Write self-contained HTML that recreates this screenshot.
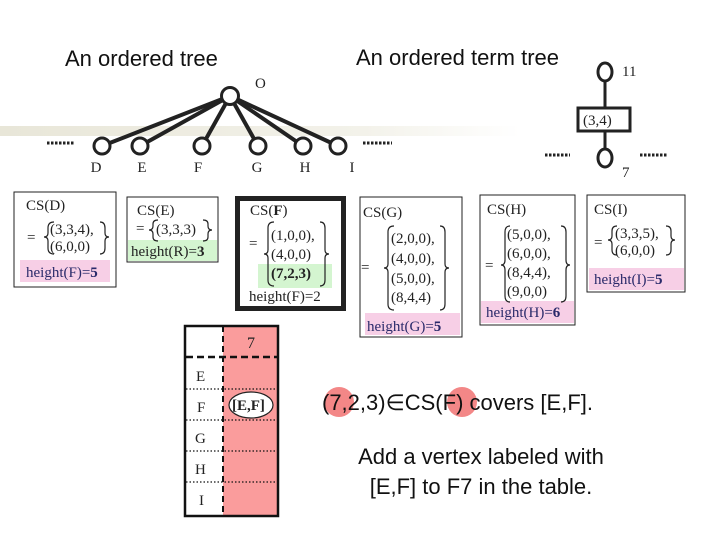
<!DOCTYPE html>
<html><head><meta charset="utf-8"><style>
body{margin:0;background:#fff;}
svg{display:block;}
.s{font-family:"Liberation Serif",serif;font-size:15px;fill:#222;}
.a{font-family:"Liberation Sans",sans-serif;font-size:22px;fill:#111;}
.n{fill:#fff;stroke:#222;stroke-width:3;}
.b{fill:none;stroke:#222;stroke-width:1.2;}
.h{font-family:"Liberation Serif",serif;font-size:15px;fill:#2a2a6a;}
</style></head><body>
<svg width="720" height="540" viewBox="0 0 720 540">
<defs><linearGradient id="g" x1="0" x2="1"><stop offset="0" stop-color="#e8e6d8"/><stop offset="0.7" stop-color="#f3f2ea"/><stop offset="1" stop-color="#fff"/></linearGradient></defs>
<rect x="0" y="126" width="520" height="10" fill="url(#g)"/>
<text class="a" x="65" y="66">An ordered tree</text>
<text class="a" x="356" y="65">An ordered term tree</text>
<!-- tree -->
<g stroke="#222" stroke-width="4">
<line x1="230" y1="96" x2="102" y2="146"/><line x1="230" y1="96" x2="140" y2="146"/>
<line x1="230" y1="96" x2="202" y2="146"/><line x1="230" y1="96" x2="258" y2="146"/>
<line x1="230" y1="96" x2="303" y2="146"/><line x1="230" y1="96" x2="338" y2="146"/>
</g>
<ellipse class="n" cx="230" cy="96" rx="8.5" ry="8.5"/>
<g><ellipse class="n" cx="102" cy="146" rx="8" ry="8"/><ellipse class="n" cx="140" cy="146" rx="8" ry="8"/><ellipse class="n" cx="202" cy="146" rx="8" ry="8"/><ellipse class="n" cx="258" cy="146" rx="8" ry="8"/><ellipse class="n" cx="303" cy="146" rx="8" ry="8"/><ellipse class="n" cx="338" cy="146" rx="8" ry="8"/></g>
<g stroke="#222" stroke-width="3" stroke-dasharray="2.5,1.5"><line x1="47" y1="143" x2="75" y2="143"/><line x1="363" y1="143" x2="392" y2="143"/><line x1="545" y1="155" x2="570" y2="155"/><line x1="640" y1="155" x2="668" y2="155"/></g>
<text class="s" x="255" y="88" font-size="16">O</text>
<g class="s" font-size="17" text-anchor="middle"><text x="96" y="172">D</text><text x="142" y="172">E</text><text x="198" y="172">F</text><text x="257" y="172">G</text><text x="305" y="172">H</text><text x="352" y="172">I</text></g>
<line x1="605" y1="72" x2="605" y2="158" stroke="#222" stroke-width="3"/>
<ellipse class="n" cx="605" cy="72" rx="7" ry="9"/>
<rect x="578" y="108" width="52" height="23" fill="#fff" stroke="#222" stroke-width="3"/>
<text class="s" x="583" y="125" font-size="16">(3,4)</text>
<ellipse class="n" cx="605" cy="158" rx="7" ry="9"/>
<text class="s" x="622" y="76" font-size="16">11</text>
<text class="s" x="622" y="177" font-size="16">7</text>
<!-- CS(D) -->
<rect x="14" y="192" width="102" height="95" fill="#fff" stroke="#222"/>
<rect x="20" y="260" width="90" height="22" fill="#f7cfe6"/>
<text class="s" x="26" y="210">CS(D)</text><text class="s" x="27" y="242">=</text>
<path class="b" d="M54,222 Q48,222 48,228 L48,233 Q48,237 44,237 Q48,237 48,241 L48,248 Q48,254 54,254"/>
<path class="b" d="M100,222 Q105,222 105,228 L105,233 Q105,237 109,237 Q105,237 105,241 L105,248 Q105,254 100,254"/>
<text class="s" x="50" y="234">(3,3,4),</text><text class="s" x="50" y="251">(6,0,0)</text>
<text class="h" x="26" y="277">height(F)=<tspan font-weight="bold">5</tspan></text>
<!-- CS(E) -->
<rect x="127" y="197" width="91" height="65" fill="#fff" stroke="#222"/>
<rect x="128" y="240" width="89" height="21" fill="#d4f5d0"/>
<text class="s" x="137" y="215">CS(E)</text><text class="s" x="136" y="233">=</text>
<path class="b" d="M158,220 Q153,220 153,224 L153,226 Q153,230 149,230 Q153,230 153,234 L153,237 Q153,241 158,241"/>
<path class="b" d="M203,220 Q208,220 208,224 L208,226 Q208,230 212,230 Q208,230 208,234 L208,237 Q208,241 203,241"/>
<text class="s" x="156" y="234">(3,3,3)</text>
<text class="s" x="131" y="256">height(R)=<tspan font-weight="bold">3</tspan></text>
<!-- CS(F) -->
<rect x="237.5" y="198.5" width="106" height="110" fill="#fff" stroke="#222" stroke-width="5"/>
<rect x="258" y="264" width="74" height="24" fill="#d4f5d0"/>
<text class="s" x="250" y="215">CS(<tspan font-weight="bold">F</tspan>)</text><text class="s" x="249" y="248">=</text>
<path class="b" d="M274,222 Q268,222 268,228 L268,250 Q268,254 264,254 Q268,254 268,258 L268,280 Q268,286 274,286"/>
<path class="b" d="M320,222 Q325,222 325,228 L325,250 Q325,254 329,254 Q325,254 325,258 L325,280 Q325,286 320,286"/>
<text class="s" x="271" y="240">(1,0,0),</text><text class="s" x="271" y="259">(4,0,0)</text><text class="s" x="271" y="278" font-weight="bold">(7,2,3)</text>
<text class="s" x="249" y="301">height(F)=2</text>
<!-- CS(G) -->
<rect x="360" y="197" width="102" height="140" fill="#fff" stroke="#222"/>
<rect x="365" y="313" width="95" height="22" fill="#f7cfe6"/>
<text class="s" x="363" y="217">CS(G)</text><text class="s" x="361" y="272">=</text>
<path class="b" d="M394,226 Q388,226 388,232 L388,264 Q388,268 384,268 Q388,268 388,272 L388,304 Q388,310 394,310"/>
<path class="b" d="M440,226 Q445,226 445,232 L445,264 Q445,268 449,268 Q445,268 445,272 L445,304 Q445,310 440,310"/>
<g class="s"><text x="391" y="243">(2,0,0),</text><text x="391" y="263">(4,0,0),</text><text x="391" y="283">(5,0,0),</text><text x="391" y="302">(8,4,4)</text></g>
<text class="h" x="367" y="331">height(G)=<tspan font-weight="bold">5</tspan></text>
<!-- CS(H) -->
<rect x="480" y="195" width="95" height="130" fill="#fff" stroke="#222"/>
<rect x="481" y="301" width="93" height="22" fill="#f7cfe6"/>
<text class="s" x="487" y="214">CS(H)</text><text class="s" x="485" y="270">=</text>
<path class="b" d="M510,226 Q505,226 505,232 L505,260 Q505,265 501,265 Q505,265 505,270 L505,296 Q505,302 510,302"/>
<path class="b" d="M561,226 Q566,226 566,232 L566,260 Q566,265 570,265 Q566,265 566,270 L566,296 Q566,302 561,302"/>
<g class="s"><text x="507" y="239">(5,0,0),</text><text x="507" y="258">(6,0,0),</text><text x="507" y="277">(8,4,4),</text><text x="507" y="296">(9,0,0)</text></g>
<text class="h" x="486" y="317">height(H)=<tspan font-weight="bold">6</tspan></text>
<!-- CS(I) -->
<rect x="587" y="195" width="98" height="97" fill="#fff" stroke="#222"/>
<rect x="589" y="268" width="95" height="22" fill="#f7cfe6"/>
<text class="s" x="594" y="214">CS(I)</text><text class="s" x="594" y="247">=</text>
<path class="b" d="M617,226 Q612,226 612,231 L612,236 Q612,240 608,240 Q612,240 612,244 L612,250 Q612,255 617,255"/>
<path class="b" d="M666,226 Q671,226 671,231 L671,236 Q671,240 675,240 Q671,240 671,244 L671,250 Q671,255 666,255"/>
<text class="s" x="615" y="238">(3,3,5),</text><text class="s" x="615" y="255">(6,0,0)</text>
<text class="h" x="594" y="284">height(I)=<tspan font-weight="bold">5</tspan></text>
<!-- table -->
<rect x="223" y="326" width="55" height="190" fill="#fa9c9c"/>
<rect x="185" y="326" width="93" height="190" fill="none" stroke="#111" stroke-width="2.5"/>
<line x1="223" y1="326" x2="223" y2="516" stroke="#111" stroke-width="2" stroke-dasharray="6,4"/>
<line x1="186" y1="357" x2="277" y2="357" stroke="#111" stroke-width="2.5" stroke-dasharray="7,4"/>
<g stroke="#111" stroke-width="1.2" stroke-dasharray="1.5,2"><line x1="186" y1="389" x2="277" y2="389"/><line x1="186" y1="420" x2="277" y2="420"/><line x1="186" y1="451" x2="277" y2="451"/><line x1="186" y1="482" x2="277" y2="482"/></g>
<g class="s" font-size="17"><text x="247" y="348" font-size="16">7</text><text x="196" y="381">E</text><text x="197" y="412">F</text><text x="195" y="443">G</text><text x="195" y="474">H</text><text x="199" y="505">I</text></g>
<ellipse cx="251" cy="405" rx="22" ry="13" fill="#fff" stroke="#222" stroke-width="1.2"/>
<text class="s" x="232" y="410" font-weight="bold" font-size="14">[E,F]</text>
<!-- right text -->
<circle cx="339" cy="402" r="15" fill="#f27a7a" opacity="0.9"/>
<circle cx="462" cy="402" r="15" fill="#f27a7a" opacity="0.9"/>
<text class="a" x="322" y="410">(7,2,3)∈CS(F) covers [E,F].</text>
<text class="a" x="481" y="464" text-anchor="middle">Add a vertex labeled with</text>
<text class="a" x="481" y="494" text-anchor="middle">[E,F] to F7 in the table.</text>
</svg>
</body></html>
